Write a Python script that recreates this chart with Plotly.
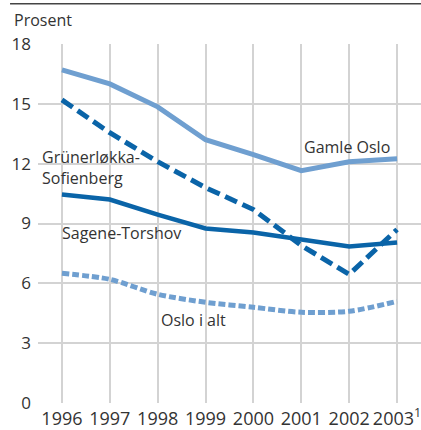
import plotly.graph_objects as go

years = [1996, 1997, 1998, 1999, 2000, 2001, 2002, 2003]
year_labels = ["1996", "1997", "1998", "1999", "2000", "2001", "2002", "2003<sup>1</sup>"]
gamle_oslo = [16.7, 16.0, 14.85, 13.2, 12.45, 11.65, 12.1, 12.25]
grunerlokka = [15.2, 13.55, 12.1, 10.8, 9.7, 7.9, 6.45, 8.7]
sagene = [10.45, 10.2, 9.45, 8.75, 8.55, 8.2, 7.85, 8.05]
oslo_alt = [6.5, 6.2, 5.45, 5.05, 4.8, 4.55, 4.6, 5.1]
y_ticks = [0, 3, 6, 9, 12, 15, 18]

LIGHT = "#6f9fd0"
DARK = "#0a64a8"
TXT = "#333333"
GRID = "#d3d3d3"
FONT = "Open Sans"

fig = go.Figure()
fig.add_trace(go.Scatter(x=years, y=oslo_alt, mode="lines", line=dict(color=LIGHT, width=5, dash="7px,3px", shape="spline", smoothing=0.8)))
fig.add_trace(go.Scatter(x=years, y=sagene, mode="lines", line=dict(color=DARK, width=4.5)))
fig.add_trace(go.Scatter(x=years, y=grunerlokka, mode="lines", line=dict(color=DARK, width=5, dash="13px,6px")))
fig.add_trace(go.Scatter(x=years, y=gamle_oslo, mode="lines", line=dict(color=LIGHT, width=5)))

ann = [
    dict(x=2001.95, y=12.85, text="Gamle Oslo", xanchor="center"),
    dict(x=1995.54, y=11.8, text="Grünerløkka-<br>Sofienberg", xanchor="left", align="left"),
    dict(x=1995.96, y=8.54, text="Sagene-Torshov", xanchor="left"),
    dict(x=1998.02, y=4.15, text="Oslo i alt", xanchor="left"),
]
annotations = [dict(a, xref="x", yref="y", showarrow=False, yanchor="middle",
                    font=dict(family=FONT, size=16, color=TXT)) for a in ann]
annotations.append(dict(x=-0.068, y=1.0656, xref="paper", yref="paper", text="Prosent",
                        showarrow=False, xanchor="left", yanchor="middle",
                        font=dict(family=FONT, size=16, color=TXT)))

fig.update_layout(
    width=421, height=430,
    margin=dict(l=38, r=0, t=44, b=27, autoexpand=False),
    paper_bgcolor="white", plot_bgcolor="white",
    showlegend=False,
    font=dict(family=FONT, size=16, color=TXT),
    annotations=annotations,
    shapes=[dict(type="line", xref="paper", yref="paper", x0=-0.073, x1=1.0, y0=1.112, y1=1.112,
                 line=dict(color="#444444", width=1.5))],
    xaxis=dict(range=[1995.5, 2003.5], tickmode="array", tickvals=years, ticktext=year_labels,
               showgrid=True, gridcolor=GRID, gridwidth=2, zeroline=False,
               showline=False, ticklabeloverflow="allow", ticklabelstandoff=3,
               tickfont=dict(family=FONT, size=18, color=TXT)),
    yaxis=dict(range=[0, 18], tickmode="array", tickvals=y_ticks, showgrid=True, gridcolor=GRID,
               gridwidth=2, zeroline=False, showline=False,
               ticklabelstandoff=6,
               tickfont=dict(family=FONT, size=17, color=TXT)),
)
fig.write_html("out.html", config={"displayModeBar": False},
               post_script="document.body.style.margin='0';document.body.style.padding='0';")
